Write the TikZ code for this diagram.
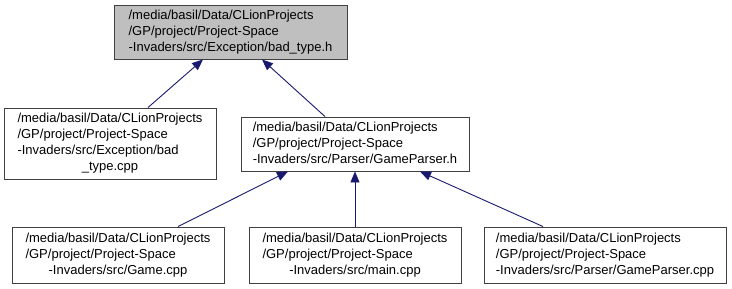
\documentclass[tikz,border=0pt]{standalone}
\usepackage{fontspec}
\setmainfont{Liberation Sans}
\usetikzlibrary{arrows.meta}
\definecolor{edgeblue}{HTML}{191970}
\definecolor{boxline}{HTML}{404040}
\definecolor{focusfill}{HTML}{BFBFBF}
\newcommand{\filelabel}[1]{\begin{tabular}{@{}l@{}}#1\end{tabular}}
\newcommand{\lastline}[1]{\multicolumn{1}{@{}c@{}}{#1}}
\tikzset{
  filebox/.style={draw=boxline, line width=0.9pt, fill=white, inner sep=0pt,
    font=\fontsize{13}{16}\selectfont},
  focusbox/.style={filebox, fill=focusfill},
  dep/.style={draw=edgeblue, line width=0.9pt,
    -{Triangle[length=11pt,width=9pt]}}
}
\begin{document}
\begin{tikzpicture}[x=1pt,y=-1pt]
\useasboundingbox (0,0) rectangle (732,289);
% header file at the top
\node[focusbox, minimum width=233pt, minimum height=54pt] (hdr) at (230.5,32)
  {\filelabel{/media/basil/Data/CLionProjects\\/GP/project/Project-Space\\-Invaders/src/Exception/bad\_type.h}};
% direct includers
\node[filebox, minimum width=212pt, minimum height=71pt] (badcpp) at (110,143.5)
  {\filelabel{/media/basil/Data/CLionProjects\\/GP/project/Project-Space\\-Invaders/src/Exception/bad\\\lastline{\_type.cpp}}};
\node[filebox, minimum width=228pt, minimum height=54pt] (parserh) at (355,144)
  {\filelabel{/media/basil/Data/CLionProjects\\/GP/project/Project-Space\\-Invaders/src/Parser/GameParser.h}};
% indirect includers
\node[filebox, minimum width=212pt, minimum height=56pt] (gamecpp) at (118,255)
  {\filelabel{/media/basil/Data/CLionProjects\\/GP/project/Project-Space\\\lastline{-Invaders/src/Game.cpp}}};
\node[filebox, minimum width=212pt, minimum height=56pt] (maincpp) at (355,255)
  {\filelabel{/media/basil/Data/CLionProjects\\/GP/project/Project-Space\\\lastline{-Invaders/src/main.cpp}}};
\node[filebox, minimum width=242pt, minimum height=56pt] (parsercpp) at (605,255)
  {\filelabel{/media/basil/Data/CLionProjects\\/GP/project/Project-Space\\-Invaders/src/Parser/GameParser.cpp}};
% include edges
\draw[dep] ([xshift=38pt]badcpp.north) -- ([xshift=-27.5pt]hdr.south);
\draw[dep] ([xshift=-30pt]parserh.north) -- ([xshift=31.5pt]hdr.south);
\draw[dep] ([xshift=60pt]gamecpp.north) -- ([xshift=-67pt]parserh.south);
\draw[dep] (maincpp.north) -- (parserh.south);
\draw[dep] ([xshift=-62pt]parsercpp.north) -- ([xshift=65pt]parserh.south);
\end{tikzpicture}
\end{document}
